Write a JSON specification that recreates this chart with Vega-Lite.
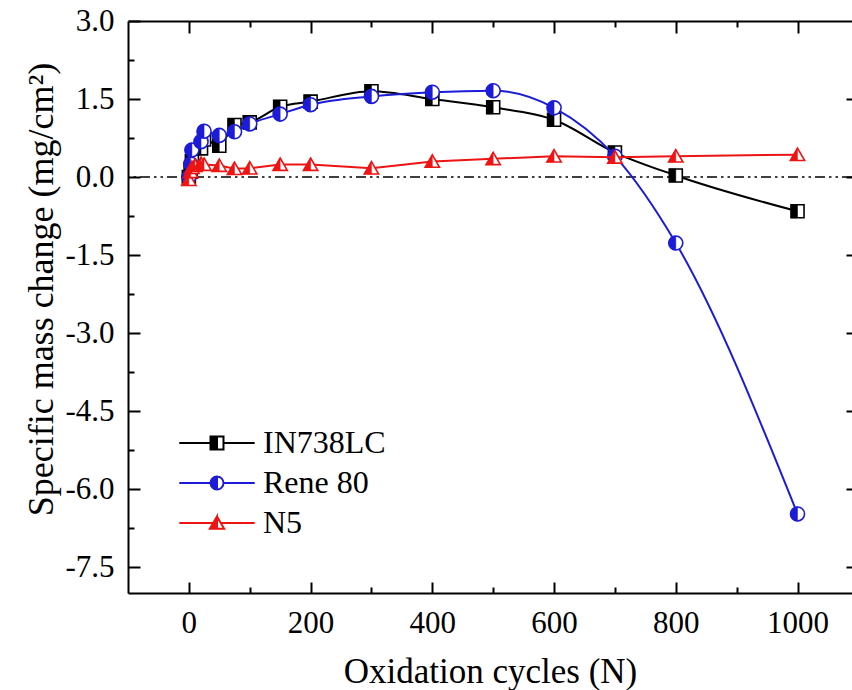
{
  "$schema": "https://vega.github.io/schema/vega-lite/v6.json",
  "width": 724,
  "height": 572,
  "autosize": {"type": "none"},
  "padding": {"left": 128, "top": 21, "right": 0, "bottom": 97},
  "background": "white",
  "config": {
    "view": {"stroke": null},
    "font": "Liberation Serif",
    "style": {"guide-label": {"font": "Liberation Serif"}, "guide-title": {"font": "Liberation Serif"}},
    "axis": {
      "labelFont": "Liberation Serif",
      "titleFont": "Liberation Serif",
      "labelColor": "black",
      "labelOverlap": false,
      "tickColor": "black",
      "tickWidth": 2,
      "domainColor": "black",
      "domainWidth": 2,
      "grid": false,
      "titleColor": "black",
      "titleFontWeight": "normal"
    },
    "legend": {"labelFont": "Liberation Serif", "titleFont": "Liberation Serif"}
  },
  "data": {
    "values": [
      {"alloy": "IN738LC", "cycles": 0, "mass": 0.0},
      {"alloy": "IN738LC", "cycles": 3, "mass": 0.1},
      {"alloy": "IN738LC", "cycles": 5, "mass": 0.3},
      {"alloy": "IN738LC", "cycles": 20, "mass": 0.55},
      {"alloy": "IN738LC", "cycles": 25, "mass": 0.72},
      {"alloy": "IN738LC", "cycles": 50, "mass": 0.6},
      {"alloy": "IN738LC", "cycles": 75, "mass": 1.0},
      {"alloy": "IN738LC", "cycles": 100, "mass": 1.05},
      {"alloy": "IN738LC", "cycles": 150, "mass": 1.35},
      {"alloy": "IN738LC", "cycles": 200, "mass": 1.45},
      {"alloy": "IN738LC", "cycles": 300, "mass": 1.65},
      {"alloy": "IN738LC", "cycles": 400, "mass": 1.5},
      {"alloy": "IN738LC", "cycles": 500, "mass": 1.34},
      {"alloy": "IN738LC", "cycles": 600, "mass": 1.1},
      {"alloy": "IN738LC", "cycles": 700, "mass": 0.47},
      {"alloy": "IN738LC", "cycles": 800, "mass": 0.03},
      {"alloy": "IN738LC", "cycles": 1000, "mass": -0.66},
      {"alloy": "Rene 80", "cycles": 0, "mass": 0.0},
      {"alloy": "Rene 80", "cycles": 3, "mass": 0.25},
      {"alloy": "Rene 80", "cycles": 5, "mass": 0.52},
      {"alloy": "Rene 80", "cycles": 20, "mass": 0.68},
      {"alloy": "Rene 80", "cycles": 25, "mass": 0.88},
      {"alloy": "Rene 80", "cycles": 50, "mass": 0.8},
      {"alloy": "Rene 80", "cycles": 75, "mass": 0.87},
      {"alloy": "Rene 80", "cycles": 100, "mass": 1.02},
      {"alloy": "Rene 80", "cycles": 150, "mass": 1.21},
      {"alloy": "Rene 80", "cycles": 200, "mass": 1.39},
      {"alloy": "Rene 80", "cycles": 300, "mass": 1.55},
      {"alloy": "Rene 80", "cycles": 400, "mass": 1.63},
      {"alloy": "Rene 80", "cycles": 500, "mass": 1.66},
      {"alloy": "Rene 80", "cycles": 600, "mass": 1.33},
      {"alloy": "Rene 80", "cycles": 700, "mass": 0.4},
      {"alloy": "Rene 80", "cycles": 800, "mass": -1.27},
      {"alloy": "Rene 80", "cycles": 1000, "mass": -6.48},
      {"alloy": "N5", "cycles": 0, "mass": -0.05},
      {"alloy": "N5", "cycles": 3, "mass": 0.1},
      {"alloy": "N5", "cycles": 5, "mass": 0.18},
      {"alloy": "N5", "cycles": 10, "mass": 0.22},
      {"alloy": "N5", "cycles": 20, "mass": 0.26},
      {"alloy": "N5", "cycles": 25, "mass": 0.24},
      {"alloy": "N5", "cycles": 50, "mass": 0.22},
      {"alloy": "N5", "cycles": 75, "mass": 0.16},
      {"alloy": "N5", "cycles": 100, "mass": 0.17},
      {"alloy": "N5", "cycles": 150, "mass": 0.24},
      {"alloy": "N5", "cycles": 200, "mass": 0.24},
      {"alloy": "N5", "cycles": 300, "mass": 0.17},
      {"alloy": "N5", "cycles": 400, "mass": 0.3},
      {"alloy": "N5", "cycles": 500, "mass": 0.35},
      {"alloy": "N5", "cycles": 600, "mass": 0.4},
      {"alloy": "N5", "cycles": 700, "mass": 0.38},
      {"alloy": "N5", "cycles": 800, "mass": 0.4},
      {"alloy": "N5", "cycles": 1000, "mass": 0.43}
    ]
  },
  "resolve": {"axis": {"x": "independent", "y": "independent"}},
  "layer": [
    {
      "data": {"values": [{}]},
      "mark": {"type": "rule", "color": "black", "strokeWidth": 1.6, "strokeDash": [10, 4, 2.5, 4, 2.5, 4]},
      "encoding": {
        "y": {"datum": 0, "type": "quantitative", "scale": {"domain": [-8, 3], "nice": false, "zero": false}, "axis": null}
      }
    },
    {
      "transform": [{"filter": "datum.alloy === 'IN738LC'"}],
      "mark": {"type": "line", "interpolate": "monotone", "color": "#000000", "strokeWidth": 2},
      "encoding": {
        "x": {"field": "cycles", "type": "quantitative", "scale": {"domain": [-100, 1089.5], "nice": false, "zero": false},
          "axis": {"orient": "bottom", "values": [0, 200, 400, 600, 800, 1000], "format": "d", "tickSize": -11, "labelPadding": 50, "labelBaseline": "alphabetic", "labelFont": "Liberation Serif", "labelFontSize": 31, "domain": true,
            "title": "Oxidation cycles (N)", "titleFont": "Liberation Serif", "titleFontSize": 35, "titleX": 362, "titleY": 89, "titleBaseline": "alphabetic", "titleAlign": "center"}},
        "y": {"field": "mass", "type": "quantitative", "scale": {"domain": [-8, 3], "nice": false, "zero": false},
          "axis": {"orient": "left", "values": [3, 1.5, 0, -1.5, -3, -4.5, -6, -7.5], "format": ".1f", "labelExpr": "replace(datum.label, '\u2212', '-')", "tickSize": -12, "labelPadding": 26, "labelFont": "Liberation Serif", "labelFontSize": 31, "domain": true,
            "title": "Specific mass change (mg/cm²)", "titleFont": "Liberation Serif", "titleFontSize": 36, "titleAngle": -90, "titleX": -76, "titleY": 268, "titleBaseline": "alphabetic", "titleAlign": "center"}}
      }
    },
    {
      "transform": [{"filter": "datum.alloy === 'IN738LC'"}],
      "mark": {"type": "point", "shape": "M-1,-1H1V1H-1Z", "size": 169, "filled": true, "fill": "white", "stroke": "#000000", "strokeWidth": 1.6, "opacity": 1},
      "encoding": {
        "x": {"field": "cycles", "type": "quantitative", "scale": {"domain": [-100, 1089.5], "nice": false, "zero": false},
          "axis": {"orient": "bottom", "values": [100, 300, 500, 700, 900], "tickSize": -6, "labels": false, "domain": false, "title": null}},
        "y": {"field": "mass", "type": "quantitative", "scale": {"domain": [-8, 3], "nice": false, "zero": false},
          "axis": {"orient": "left", "values": [2.25, 0.75, -0.75, -2.25, -3.75, -5.25, -6.75], "tickSize": -6, "labels": false, "domain": false, "title": null}}
      }
    },
    {
      "transform": [{"filter": "datum.alloy === 'IN738LC'"}],
      "mark": {"type": "point", "shape": "M0,-1H-1V1H0Z", "size": 169, "filled": true, "fill": "#000000", "stroke": "#000000", "strokeWidth": 0.5, "opacity": 1},
      "encoding": {
        "x": {"field": "cycles", "type": "quantitative", "scale": {"domain": [-100, 1089.5], "nice": false, "zero": false},
          "axis": {"orient": "top", "values": [0, 200, 400, 600, 800, 1000], "tickSize": -12, "labels": false, "domain": true, "title": null}},
        "y": {"field": "mass", "type": "quantitative", "scale": {"domain": [-8, 3], "nice": false, "zero": false},
          "axis": {"orient": "right", "values": [1.5, 0, -1.5, -3, -4.5, -6, -7.5], "tickSize": -6, "labels": false, "domain": false, "title": null}}
      }
    },
    {
      "transform": [{"filter": "datum.alloy === 'Rene 80'"}],
      "mark": {"type": "line", "interpolate": "monotone", "color": "#1c1cd8", "strokeWidth": 2},
      "encoding": {
        "x": {"field": "cycles", "type": "quantitative", "scale": {"domain": [-100, 1089.5], "nice": false, "zero": false},
          "axis": {"orient": "top", "values": [100, 300, 500, 700, 900], "tickSize": -6, "labels": false, "domain": false, "title": null}},
        "y": {"field": "mass", "type": "quantitative", "scale": {"domain": [-8, 3], "nice": false, "zero": false}, "axis": null}
      }
    },
    {
      "transform": [{"filter": "datum.alloy === 'Rene 80'"}],
      "mark": {"type": "point", "shape": "circle", "size": 196, "filled": true, "fill": "white", "stroke": "#1c1cd8", "strokeWidth": 1.6, "opacity": 1},
      "encoding": {
        "x": {"field": "cycles", "type": "quantitative", "scale": {"domain": [-100, 1089.5], "nice": false, "zero": false}, "axis": null},
        "y": {"field": "mass", "type": "quantitative", "scale": {"domain": [-8, 3], "nice": false, "zero": false}, "axis": null}
      }
    },
    {
      "transform": [{"filter": "datum.alloy === 'Rene 80'"}],
      "mark": {"type": "point", "shape": "M0,-1A1,1,0,0,0,0,1Z", "size": 196, "filled": true, "fill": "#1c1cd8", "stroke": "#1c1cd8", "strokeWidth": 0.5, "opacity": 1},
      "encoding": {
        "x": {"field": "cycles", "type": "quantitative", "scale": {"domain": [-100, 1089.5], "nice": false, "zero": false}, "axis": null},
        "y": {"field": "mass", "type": "quantitative", "scale": {"domain": [-8, 3], "nice": false, "zero": false}, "axis": null}
      }
    },
    {
      "transform": [{"filter": "datum.alloy === 'N5'"}],
      "mark": {"type": "line", "interpolate": "linear", "color": "#ee1414", "strokeWidth": 2},
      "encoding": {
        "x": {"field": "cycles", "type": "quantitative", "scale": {"domain": [-100, 1089.5], "nice": false, "zero": false}, "axis": null},
        "y": {"field": "mass", "type": "quantitative", "scale": {"domain": [-8, 3], "nice": false, "zero": false}, "axis": null}
      }
    },
    {
      "transform": [{"filter": "datum.alloy === 'N5'"}],
      "mark": {"type": "point", "shape": "M0,-1L1.1,0.9H-1.1Z", "size": 169, "filled": true, "fill": "white", "stroke": "#ee1414", "strokeWidth": 1.6, "opacity": 1},
      "encoding": {
        "x": {"field": "cycles", "type": "quantitative", "scale": {"domain": [-100, 1089.5], "nice": false, "zero": false}, "axis": null},
        "y": {"field": "mass", "type": "quantitative", "scale": {"domain": [-8, 3], "nice": false, "zero": false}, "axis": null}
      }
    },
    {
      "transform": [{"filter": "datum.alloy === 'N5'"}],
      "mark": {"type": "point", "shape": "M0,-1L-1.1,0.9H0Z", "size": 169, "filled": true, "fill": "#ee1414", "stroke": "#ee1414", "strokeWidth": 0.5, "opacity": 1},
      "encoding": {
        "x": {"field": "cycles", "type": "quantitative", "scale": {"domain": [-100, 1089.5], "nice": false, "zero": false}, "axis": null},
        "y": {"field": "mass", "type": "quantitative", "scale": {"domain": [-8, 3], "nice": false, "zero": false}, "axis": null}
      }
    },
    {
      "transform": [{"filter": "false"}],
      "mark": {"type": "point", "filled": true, "opacity": 1, "strokeWidth": 2},
      "encoding": {
        "shape": {"field": "alloy", "type": "nominal",
          "scale": {"domain": ["IN738LC", "Rene 80", "N5"], "range": [
            "M-5.8,0H-1M1,0H5.8M0,-1H-1V1H0ZM0,-1H1V1H0H1V-1H0",
            "M-5.8,0H-1M1,0H5.8M0,-1A1,1,0,0,0,0,1ZM0,-1A1,1,0,0,1,0,1A1,1,0,0,0,0,-1",
            "M-5.8,0H-0.58M0.58,0H5.8M0,-1L-1.1,0.9H0ZM0,-1L1.1,0.9H0H1.1L0,-1"]},
          "legend": {"title": null, "orient": "none", "legendX": 73, "legendY": 406, "direction": "vertical", "padding": 0, "labelFont": "Liberation Serif", "labelFontSize": 32, "labelColor": "black", "labelOffset": 30, "symbolSize": 169, "symbolStrokeWidth": 2, "rowPadding": 8}},
        "fill": {"field": "alloy", "type": "nominal",
          "scale": {"domain": ["IN738LC", "Rene 80", "N5"], "range": ["#000000", "#1c1cd8", "#ee1414"]},
          "legend": {"title": null, "orient": "none", "legendX": 73, "legendY": 406, "direction": "vertical", "padding": 0, "labelFont": "Liberation Serif", "labelFontSize": 32, "labelColor": "black", "labelOffset": 30, "symbolSize": 169, "symbolStrokeWidth": 2, "rowPadding": 8}},
        "stroke": {"field": "alloy", "type": "nominal",
          "scale": {"domain": ["IN738LC", "Rene 80", "N5"], "range": ["#000000", "#1c1cd8", "#ee1414"]},
          "legend": {"title": null, "orient": "none", "legendX": 73, "legendY": 406, "direction": "vertical", "padding": 0, "labelFont": "Liberation Serif", "labelFontSize": 32, "labelColor": "black", "labelOffset": 30, "symbolSize": 169, "symbolStrokeWidth": 2, "rowPadding": 8}}
      }
    }
  ]
}
